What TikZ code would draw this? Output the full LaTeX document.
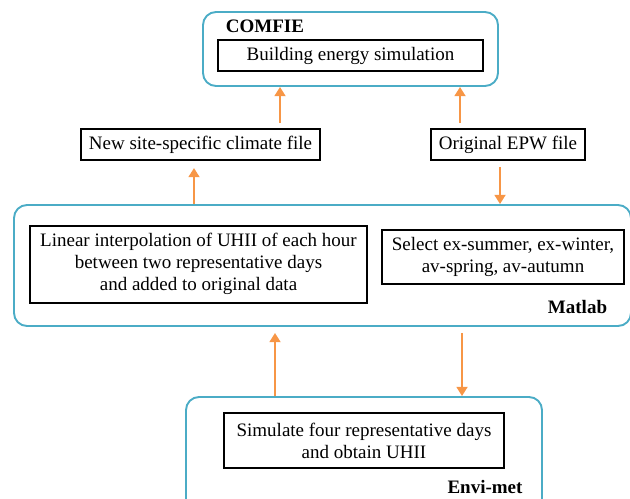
\documentclass[tikz,border=0pt]{standalone}
\usepackage{fontspec}
\setmainfont{Liberation Serif}
\usetikzlibrary{arrows.meta}
\definecolor{grupo}{RGB}{75,172,198}
\definecolor{flecha}{RGB}{247,150,70}
\tikzset{
  grupo/.style={draw=grupo, line width=0.95pt, rounded corners=6.5pt},
  caja/.style={draw=black, line width=1pt, align=center, inner sep=0pt,
    font=\fontsize{9.5}{11}\selectfont},
  etiqueta/.style={font=\fontsize{9.5}{11}\selectfont\bfseries, inner sep=0pt},
  flujo/.style={draw=flecha, line width=1.45pt,
    -{Triangle[width=5.4pt, length=4.6pt]}}
}
\begin{document}
\begin{tikzpicture}[x=0.5pt, y=-0.5pt]
  \useasboundingbox (0,0) rectangle (630,498);

  % Grupos
  \node[grupo, minimum width=147.5pt, minimum height=37pt] (comfie) at (350.5,49) {};
  \node[grupo, minimum width=308.5pt, minimum height=60.5pt] (matlab) at (322.5,265.5) {};
  \node[grupo, minimum width=178pt, minimum height=61.5pt] (envimet) at (364,458.5) {};

  % Etiquetas de los grupos
  \node[etiqueta] (lcomfie) at (265,26) {COMFIE};
  \node[etiqueta] (lmatlab) at (577.5,307) {Matlab};
  \node[etiqueta] (lenvimet) at (485,487) {Envi-met};

  % Cajas
  \node[caja, minimum width=132.5pt, minimum height=15.5pt] (bes) at (350.5,55.5)
    {Building energy simulation};
  \node[caja, minimum width=119.5pt, minimum height=15.5pt] (newsite) at (200.5,144.5)
    {New site-specific climate file};
  \node[caja, minimum width=77pt, minimum height=15.5pt] (epw) at (508,144.5)
    {Original EPW file};
  \node[caja, minimum width=168.5pt, minimum height=38.5pt] (linear) at (198.5,264)
    {Linear interpolation of UHII of each hour\\between two representative days\\and added to original data};
  \node[caja, minimum width=121pt, minimum height=27pt] (select) at (503,257)
    {Select ex-summer, ex-winter,\\av-spring, av-autumn};
  \node[caja, minimum width=140pt, minimum height=27.5pt] (simulate) at (364,440.5)
    {Simulate four representative days\\and obtain UHII};

  % Flechas
  \draw[flujo, shorten <=2.5pt] ([xshift=39.75pt]newsite.north) coordinate (p1) -- (p1 |- comfie.south);
  \draw[flujo, shorten <=2.5pt] ([xshift=-24pt]epw.north) coordinate (p2) -- (p2 |- comfie.south);
  \draw[flujo, shorten >=3.5pt] ([xshift=-3.25pt]newsite.south) coordinate (p3)
    (p3 |- matlab.north) -- (p3);
  \draw[flujo, shorten <=3pt] ([xshift=-4pt]epw.south) coordinate (p4) -- (p4 |- matlab.north);
  \draw[flujo, shorten >=3pt] ([xshift=-44.5pt]envimet.north) coordinate (p5) -- (p5 |- matlab.south);
  \draw[flujo, shorten <=3pt] ([xshift=49pt]envimet.north) coordinate (p6)
    (p6 |- matlab.south) -- (p6);
\end{tikzpicture}
\end{document}
